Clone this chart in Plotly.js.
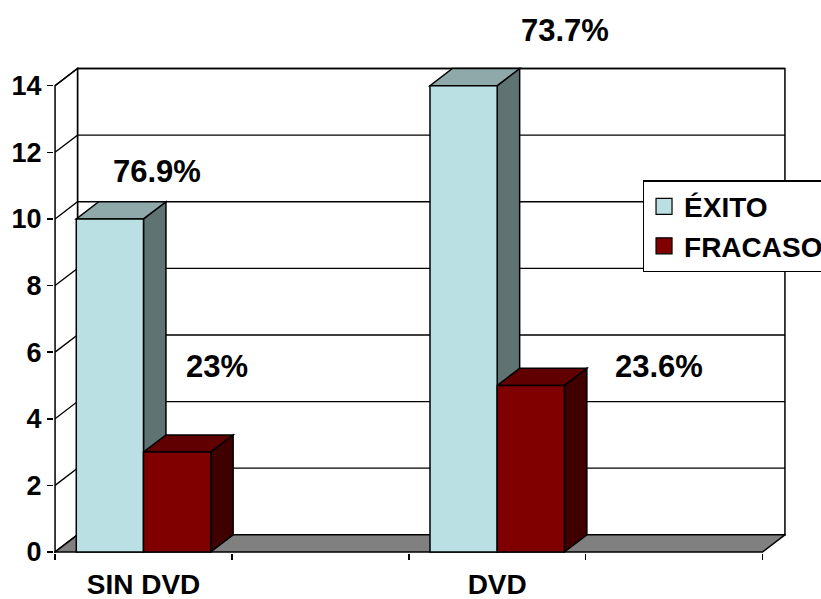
<!DOCTYPE html>
<html>
<head>
<meta charset="utf-8">
<script src="https://cdn.plot.ly/plotly-3.0.1.min.js"></script>
<style>html,body{margin:0;padding:0;background:#fff;overflow:hidden}#chart{width:821px;height:599px}</style>
</head>
<body>
<div id="chart"></div>
<script>
// ---- data ----
const categories = ['SIN DVD', 'DVD'];
const seriesNames = ['ÉXITO', 'FRACASO'];
const exito = [10, 14];
const fracaso = [3, 5];
const exitoPct = ['76.9%', '73.7%'];
const fracasoPct = ['23%', '23.6%'];
const yTicks = [0, 2, 4, 6, 8, 10, 12, 14];

// ---- style / geometry ----
const FONT = 'Arial, "Liberation Sans", sans-serif';
const catPos = categories.map((c, i) => 2 * i);   // each category followed by an empty slot
const BW = 0.38;           // bar width (category units)
const DX = 0.127, DY = 0.515; // 3-D depth offset in data units
const XMIN = -0.5, XMAX = 3.5, YTOP = 14;
const colE = {front: '#BBE0E3', top: '#8FA9AA', side: '#5F7373'};
const colF = {front: '#800000', top: '#600000', side: '#400000'};
const LW = 1.5;

const shapes = [];
function poly(pts, fill) {
  const d = pts.map((p, i) => (i ? 'L' : 'M') + p[0] + ',' + p[1]).join(' ') + ' Z';
  shapes.push({type: 'path', xref: 'x', yref: 'y', path: d, fillcolor: fill,
    line: {color: '#000', width: LW}, layer: 'below'});
}
// back wall
poly([[XMIN + DX, DY], [XMAX + DX, DY], [XMAX + DX, YTOP + DY], [XMIN + DX, YTOP + DY]], '#fff');
// left wall
poly([[XMIN, 0], [XMIN + DX, DY], [XMIN + DX, YTOP + DY], [XMIN, YTOP]], '#fff');
// gridlines on walls
yTicks.forEach(t => {
  shapes.push({type: 'path', xref: 'x', yref: 'y',
    path: `M${XMIN},${t} L${XMIN + DX},${t + DY} L${XMAX + DX},${t + DY}`,
    line: {color: '#000', width: 1.3}, layer: 'below'});
});
// floor
poly([[XMIN, 0], [XMAX, 0], [XMAX + DX, DY], [XMIN + DX, DY]], '#808080');
// 3-D faces of the bars
function faces(x0, v, col) {
  const x1 = x0 + BW;
  poly([[x1, 0], [x1 + DX, DY], [x1 + DX, v + DY], [x1, v]], col.side);
  poly([[x0, v], [x1, v], [x1 + DX, v + DY], [x0 + DX, v + DY]], col.top);
}
catPos.forEach((c, i) => {
  faces(c - BW, exito[i], colE);
  faces(c, fracaso[i], colF);
});

const traces = [
  {type: 'bar', x: catPos, y: exito, width: BW, offset: -BW, name: seriesNames[0],
   marker: {color: colE.front, line: {color: '#000', width: LW}}, showlegend: false, hoverinfo: 'skip'},
  {type: 'bar', x: catPos, y: fracaso, width: BW, offset: 0, name: seriesNames[1],
   marker: {color: colF.front, line: {color: '#000', width: LW}}, showlegend: false, hoverinfo: 'skip'},
  {type: 'scatter', mode: 'markers', x: [null], y: [null], name: seriesNames[0],
   marker: {symbol: 'square', size: 16, color: colE.front, line: {color: '#000', width: 1.2}}},
  {type: 'scatter', mode: 'markers', x: [null], y: [null], name: seriesNames[1],
   marker: {symbol: 'square', size: 16, color: colF.front, line: {color: '#000', width: 1.2}}}
];

// annotation positions (paper coords)
const annPos = [[0.1404, 0.7845], [0.6985, 1.0755], [0.2228, 0.3845], [0.827, 0.3845]];
const annText = [exitoPct[0], exitoPct[1], fracasoPct[0], fracasoPct[1]];
const annotations = annText.map((t, i) => ({
  xref: 'paper', yref: 'paper', x: annPos[i][0], y: annPos[i][1], text: t, showarrow: false,
  xanchor: 'center', yanchor: 'middle',
  font: {family: FONT, size: 31, weight: 'bold', color: '#000'}
}));

const layout = {
  width: 821, height: 599,
  margin: {l: 54, r: 35, t: 67, b: 46, autoexpand: false},
  paper_bgcolor: '#fff', plot_bgcolor: 'rgba(0,0,0,0)',
  barmode: 'overlay',
  showlegend: true,
  legend: {x: 0.804, y: 0.767, xanchor: 'left', yanchor: 'top',
    bgcolor: '#fff', bordercolor: '#000', borderwidth: 1.5,
    font: {family: FONT, size: 28, weight: 'bold', color: '#000'}},
  xaxis: {range: [XMIN - 0.006, XMAX + DX + 0.006], showgrid: false, zeroline: false, showline: false,
    tickmode: 'array', tickvals: catPos, ticktext: categories, ticks: '',
    ticklabelstandoff: 12,
    tickfont: {family: FONT, size: 28, weight: 'bold', color: '#000'},
    minor: {tickmode: 'array', tickvals: [-0.5, 0.5, 1.5, 2.5, 3.5], ticks: 'outside', ticklen: 6,
      tickcolor: '#000', tickwidth: 1.5, showgrid: false},
    fixedrange: true},
  yaxis: {range: [-0.03, YTOP + DY + 0.045], showgrid: false, zeroline: false, showline: false,
    tickmode: 'array', tickvals: yTicks, ticks: 'outside', ticklen: 6, tickwidth: 1.5, tickcolor: '#000',
    tickfont: {family: FONT, size: 27, weight: 'bold', color: '#000'},
    fixedrange: true},
  shapes: shapes,
  annotations: annotations
};

Plotly.newPlot('chart', traces, layout, {displayModeBar: false, staticPlot: true});
</script>
</body>
</html>
